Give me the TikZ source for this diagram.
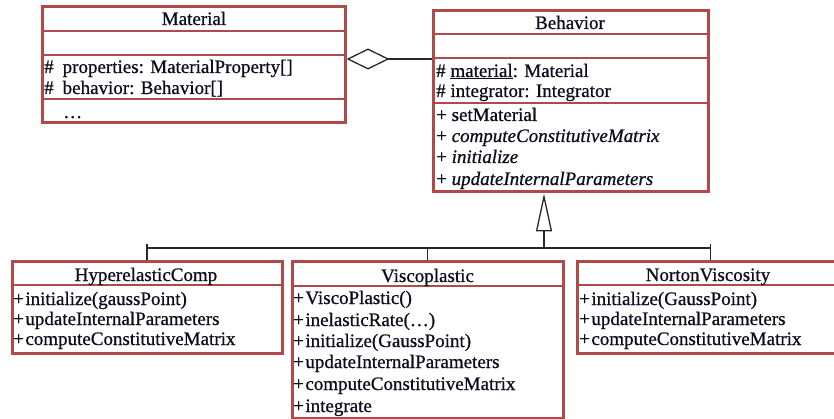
\documentclass[tikz,border=0pt]{standalone}
\usepackage{fontspec}
\newfontfamily\umlfont[FakeBold=0.7]{Liberation Serif}
\usetikzlibrary{arrows.meta}
\definecolor{umlred}{RGB}{176,74,74}
\definecolor{ink}{RGB}{12,12,28}
\definecolor{wirec}{RGB}{40,40,40}
\begin{document}
\begin{tikzpicture}[x=1pt,y=-1pt,
  font=\umlfont\fontsize{19}{21}\selectfont,
  umlbox/.style={draw=umlred, line width=3pt, inner sep=0pt},
  divk/.style={umlred, line width=2.6pt},
  divt/.style={umlred, line width=1.8pt},
  txt/.style={anchor=base west, inner sep=0pt, text=ink},
  ttl/.style={anchor=base, inner sep=0pt, text=ink},
  wire/.style={draw=wirec, line width=1.3pt}]
\useasboundingbox (0,0) rectangle (834,419);
\clip (0,0) rectangle (834,419);
\fill[white] (0,0) rectangle (834,419);

% Material
\node[umlbox, minimum width=303pt, minimum height=116pt] (mat) at (193.5,65) {};
\draw[divk] (42,31) -- (345,31);
\draw[divk] (42,55) -- (345,55);
\draw[divt] (42,99) -- (345,99);
\node[ttl] (matT) at (194,25) {Material};
\node[txt] (matA1) at (44,73) {\#\hspace{9pt}properties: MaterialProperty[]};
\node[txt] (matA2) at (44,94) {\#\hspace{9pt}behavior: Behavior[]};
\node[txt] (matA3) at (63,118) {\ldots};

% Behavior
\node[umlbox, minimum width=275pt, minimum height=181pt] (bhv) at (570.5,101.5) {};
\draw[divk] (433,34) -- (708,34);
\draw[divk] (433,58) -- (708,58);
\draw[divt] (433,103) -- (708,103);
\node[ttl] (bhvT) at (570,29) {Behavior};
\node[txt] (bhvA1) at (436,77) {\# \underline{material}: Material};
\node[txt] (bhvA2) at (436,97) {\# integrator: Integrator};
\node[txt] (bhvO1) at (436,121) {+ setMaterial};
\node[txt] (bhvO2) at (436,142) {+ \textit{computeConstitutiveMatrix}};
\node[txt] (bhvO3) at (436,163) {+ \textit{initialize}};
\node[txt] (bhvO4) at (436,185) {+ \textit{updateInternalParameters}};

% HyperelasticComp
\node[umlbox, minimum width=270pt, minimum height=91pt] (hyp) at (147,307.5) {};
\draw[divk] (12,285) -- (282,285);
\node[ttl] (hypT) at (146,281) {HyperelasticComp};
\node[txt] (hypO1) at (13,305) {+\hspace{1.5pt}initialize(gaussPoint)};
\node[txt] (hypO2) at (13,325) {+\hspace{1.5pt}updateInternalParameters};
\node[txt] (hypO3) at (13,345) {+\hspace{1.5pt}computeConstitutiveMatrix};

% Viscoplastic
\node[umlbox, minimum width=271pt, minimum height=156pt] (vis) at (427.5,340) {};
\draw[divk] (292,286) -- (563,286);
\node[ttl] (visT) at (427.5,282) {Viscoplastic};
\node[txt] (visO1) at (293,304) {+\hspace{1.5pt}ViscoPlastic()};
\node[txt] (visO2) at (293,326) {+\hspace{1.5pt}inelasticRate(\ldots)};
\node[txt] (visO3) at (293,347) {+\hspace{1.5pt}initialize(GaussPoint)};
\node[txt] (visO4) at (293,368) {+\hspace{1.5pt}updateInternalParameters};
\node[txt] (visO5) at (293,390) {+\hspace{1.5pt}computeConstitutiveMatrix};
\node[txt] (visO6) at (293,412) {+\hspace{1.5pt}integrate};

% NortonViscosity
\node[umlbox, minimum width=267pt, minimum height=91pt] (nor) at (710.5,307.5) {};
\draw[divk] (577,285) -- (844,285);
\node[ttl] (norT) at (708,281) {NortonViscosity};
\node[txt] (norO1) at (579,305) {+\hspace{1.5pt}initialize(GaussPoint)};
\node[txt] (norO2) at (579,325) {+\hspace{1.5pt}updateInternalParameters};
\node[txt] (norO3) at (579,345) {+\hspace{1.5pt}computeConstitutiveMatrix};

% aggregation
\coordinate (yagg) at (0,59);
\draw[wire, {Diamond[open, length=43pt, width=21pt]}-] (mat.east |- yagg) -- (bhv.west |- yagg);

% generalization
\coordinate (ybus) at (0,248);
\coordinate (ytick) at (0,244);
\coordinate (inh) at (544,248);
\draw[wire, -{Triangle[open, length=38pt, width=16pt]}] (inh) -- (inh |- bhv.south);
\draw[wire] (hyp.north |- ybus) -- (nor.north |- ybus);
\draw[wire] (hyp.north |- ytick) -- (hyp.north);
\draw[wire] (vis.north |- ybus) -- (vis.north);
\draw[wire] (nor.north |- ytick) -- (nor.north);
\end{tikzpicture}
\end{document}
